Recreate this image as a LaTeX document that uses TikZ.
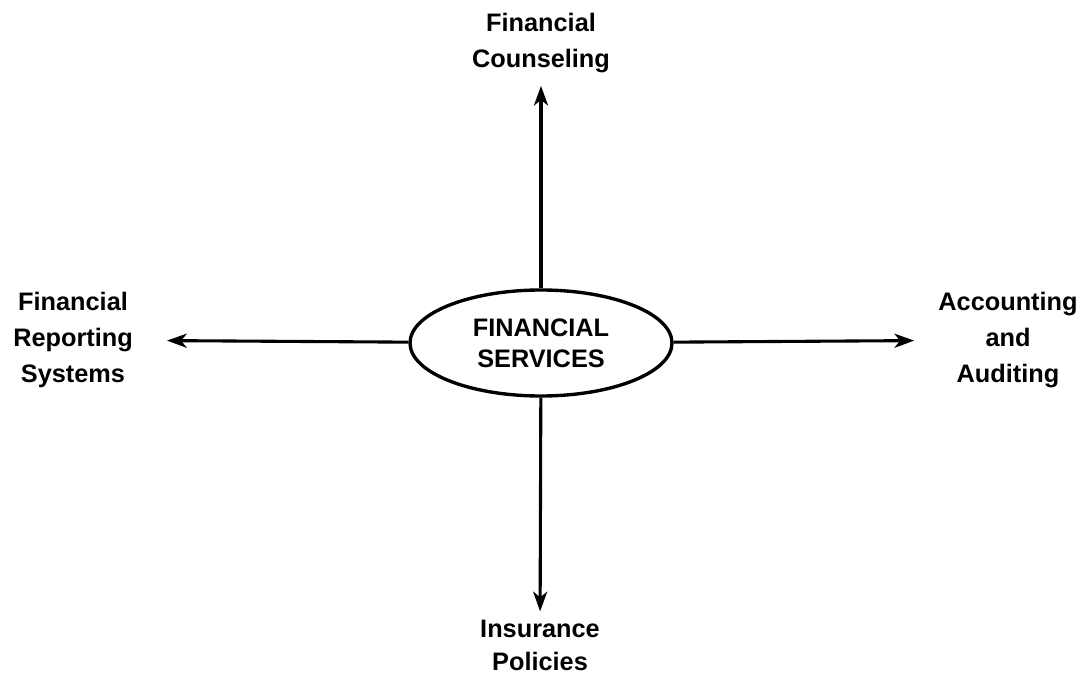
\documentclass[tikz,border=0pt]{standalone}
\usepackage{fontspec}
\setmainfont{Liberation Sans}
\usetikzlibrary{shapes.geometric,arrows.meta}
\begin{document}
\begin{tikzpicture}[scale=0.25]
	\tikzstyle{every node}+=[inner sep=0pt, font=\bfseries\fontsize{18}{25.5}\selectfont, align=center]
	\tikzstyle{hub}=[draw, ellipse, line width=2.4pt, minimum width=6.55cm, minimum height=2.65cm, font=\bfseries\fontsize{18}{22}\selectfont]
	\tikzstyle{link}=[-{Stealth[length=14pt,width=10pt,inset=4pt]}, line width=2.2pt]
	\useasboundingbox (0,0) rectangle (108.1,-67.7);
	\node [hub] (services) at (54.1,-34.3) {FINANCIAL\\SERVICES};
	\node (counseling) at (54.1,-4.3) {Financial\\Counseling};
	\node (reporting) at (7.3,-34.0) {Financial\\Reporting\\Systems};
	\node (auditing) at (100.8,-34.0) {Accounting\\and\\Auditing};
	\node [font=\bfseries\fontsize{18}{23.5}\selectfont] (insurance) at (54.0,-64.5) {Insurance\\Policies};
	\draw [link, shorten >=0.32cm] (services) -- (counseling);
	\draw [link, shorten >=0.85cm] (services) -- (reporting);
	\draw [link, shorten >=0.6cm] (services) -- (auditing);
	\draw [link, shorten >=0.2cm] (services) -- (insurance);
\end{tikzpicture}
\end{document}
